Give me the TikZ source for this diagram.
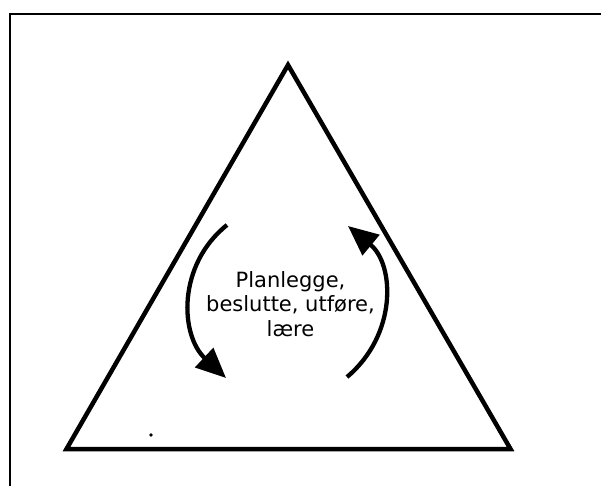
\documentclass[tikz,border=0pt]{standalone}
\usepackage{fontspec}
\setmainfont{DejaVu Sans}
\usetikzlibrary{arrows.meta}
\tikzset{
  frameline/.style={line width=2.2pt, black},
  tri/.style={line width=4.5pt, black, line join=miter},
  cyclearrow/.style={line width=4.3pt, black, -{Triangle[length=30pt,width=26pt]}},
  label/.style={align=center, font=\fontsize{21pt}{24.7pt}\selectfont, inner sep=0pt}
}
\begin{document}
\begin{tikzpicture}[x=1pt,y=-1pt]
\useasboundingbox (0,0) rectangle (601,486);
% frame (only left and top edges visible)
\coordinate (fbl) at (10,486);
\coordinate (ftl) at (10,14);
\coordinate (ftr) at (601,14);
\draw[frameline] (fbl) -- (ftl) -- (ftr);
% triangle
\coordinate (apex) at (288,65);
\coordinate (bl) at (66.5,449);
\coordinate (br) at (510.5,449);
\draw[tri] (apex) -- (bl) -- (br) -- cycle;
% dot
\fill (151,435) circle (1.8);
% cycle arrows
\coordinate (ls) at (227,225);
\coordinate (le) at (226,378);
\coordinate (rs) at (347,377);
\coordinate (re) at (348,226);
\draw[cyclearrow] (ls) .. controls (177,265) and (180,335) .. (le);
\draw[cyclearrow] (rs) .. controls (397,335) and (395,265) .. (re);
% text
\node[label] (txt) at (290.5,304) {Planlegge,\\beslutte, utføre,\\lære};
\end{tikzpicture}
\end{document}
